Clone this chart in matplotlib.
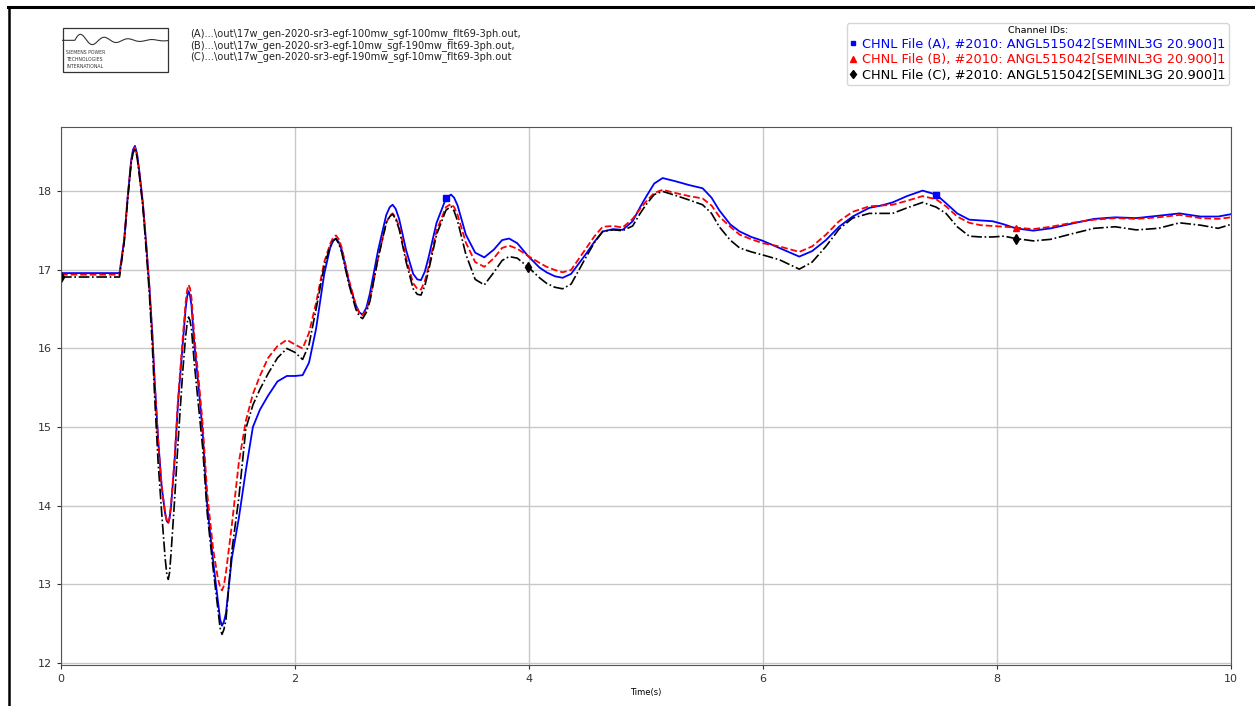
import numpy as np
import matplotlib
matplotlib.use("Agg")
import matplotlib.pyplot as plt
from matplotlib.lines import Line2D
from matplotlib.patches import Rectangle

# time axis shared by the three channels (s)
t = [0.0, 0.5, 0.54, 0.57, 0.60, 0.615, 0.632, 0.65, 0.67, 0.70, 0.73, 0.755, 0.78, 0.80, 0.83, 0.86,
     0.89, 0.905, 0.917, 0.928, 0.94, 0.97, 1.0, 1.04, 1.065, 1.078, 1.09, 1.102, 1.115, 1.14, 1.18,
     1.21, 1.25, 1.30, 1.34, 1.36, 1.376, 1.392, 1.41, 1.46, 1.52, 1.58, 1.64, 1.70, 1.77, 1.85, 1.93,
     2.0, 2.065, 2.12, 2.18, 2.25, 2.30, 2.325, 2.35, 2.375, 2.40, 2.46, 2.52, 2.55, 2.578, 2.61, 2.64,
     2.71, 2.78, 2.81, 2.834, 2.86, 2.89, 2.95, 3.01, 3.045, 3.077, 3.11, 3.14, 3.21, 3.29, 3.333, 3.36,
     3.39, 3.46, 3.54, 3.618, 3.70, 3.77, 3.83, 3.90, 3.99, 4.09, 4.15, 4.22, 4.287, 4.36, 4.49, 4.56,
     4.63, 4.72, 4.80, 4.886, 4.95, 5.0, 5.07, 5.142, 5.25, 5.37, 5.484, 5.56, 5.626, 5.72, 5.80, 5.90,
     6.0, 6.14, 6.31, 6.42, 6.538, 6.65, 6.766, 6.908, 7.01, 7.108, 7.23, 7.364, 7.48, 7.564, 7.66,
     7.763, 7.86, 7.963, 8.06, 8.16, 8.31, 8.46, 8.64, 8.83, 9.01, 9.19, 9.38, 9.56, 9.74, 9.89, 10.0]

# File (A) - blue
ang_a = [16.96, 16.96, 17.38, 17.93, 18.40, 18.53, 18.58, 18.48, 18.25, 17.85, 17.30, 16.80, 16.20, 15.60, 14.85, 14.25,
         13.90, 13.80, 13.78, 13.84, 13.98, 14.55, 15.30, 16.05, 16.50, 16.66, 16.73, 16.68, 16.55, 16.05, 15.45,
         14.95, 14.00, 13.30, 12.80, 12.55, 12.47, 12.52, 12.63, 13.33, 13.84, 14.45, 15.00, 15.22, 15.40, 15.58, 15.65,
         15.65, 15.66, 15.82, 16.25, 16.95, 17.28, 17.37, 17.40, 17.35, 17.25, 16.85, 16.55, 16.46, 16.43, 16.52, 16.70,
         17.25, 17.70, 17.80, 17.83, 17.78, 17.65, 17.25, 16.95, 16.88, 16.87, 16.98, 17.15, 17.60, 17.91, 17.96, 17.92,
         17.82, 17.45, 17.22, 17.16, 17.26, 17.38, 17.40, 17.34, 17.18, 17.03, 16.97, 16.92, 16.90, 16.95, 17.21, 17.36,
         17.49, 17.52, 17.51, 17.62, 17.80, 17.93, 18.10, 18.17, 18.13, 18.08, 18.04, 17.92, 17.76, 17.58, 17.49, 17.42,
         17.37, 17.28, 17.17, 17.24, 17.38, 17.55, 17.68, 17.79, 17.82, 17.86, 17.94, 18.01, 17.96, 17.85, 17.72,
         17.64, 17.63, 17.62, 17.58, 17.53, 17.50, 17.53, 17.59, 17.65, 17.67, 17.66, 17.69, 17.72, 17.68, 17.68, 17.71]

# File (B) - red
ang_b = [16.94, 16.94, 17.38, 17.93, 18.38, 18.50, 18.56, 18.46, 18.23, 17.83, 17.28, 16.78, 16.18, 15.58, 14.83, 14.25,
         13.90, 13.80, 13.78, 13.85, 14.00, 14.58, 15.35, 16.12, 16.58, 16.74, 16.81, 16.77, 16.65, 16.15, 15.55,
         15.05, 14.15, 13.45, 13.08, 12.96, 12.92, 12.98, 13.15, 13.75, 14.55, 15.08, 15.42, 15.65, 15.88, 16.03, 16.11,
         16.05, 16.00, 16.20, 16.58, 17.10, 17.33, 17.41, 17.44, 17.39, 17.28, 16.88, 16.55, 16.45, 16.42, 16.49, 16.62,
         17.15, 17.60, 17.69, 17.72, 17.67, 17.55, 17.15, 16.83, 16.76, 16.75, 16.86, 17.03, 17.50, 17.80, 17.84, 17.80,
         17.70, 17.35, 17.10, 17.04, 17.15, 17.28, 17.31, 17.27, 17.18, 17.09, 17.04, 17.00, 16.97, 17.00, 17.28, 17.43,
         17.55, 17.56, 17.54, 17.65, 17.78, 17.87, 17.98, 18.02, 17.98, 17.94, 17.91, 17.82, 17.68, 17.55, 17.45, 17.39,
         17.34, 17.30, 17.23, 17.30, 17.45, 17.62, 17.74, 17.81, 17.82, 17.83, 17.88, 17.94, 17.90, 17.81, 17.68,
         17.60, 17.57, 17.56, 17.55, 17.54, 17.52, 17.55, 17.60, 17.64, 17.66, 17.65, 17.67, 17.70, 17.66, 17.65, 17.67]

# File (C) - black
ang_c = [16.91, 16.91, 17.35, 17.90, 18.36, 18.48, 18.55, 18.44, 18.20, 17.80, 17.22, 16.70, 16.05, 15.40, 14.55, 13.92,
         13.33, 13.12, 13.06, 13.15, 13.38, 14.05, 14.80, 15.70, 16.15, 16.32, 16.40, 16.36, 16.25, 15.80, 15.20,
         14.75, 13.90, 13.20, 12.70, 12.44, 12.36, 12.42, 12.55, 13.42, 14.10, 14.98, 15.28, 15.48, 15.68, 15.88, 16.00,
         15.95, 15.86, 16.05, 16.50, 17.05, 17.30, 17.37, 17.40, 17.33, 17.22, 16.82, 16.50, 16.41, 16.38, 16.46, 16.60,
         17.15, 17.60, 17.68, 17.71, 17.65, 17.52, 17.10, 16.76, 16.69, 16.68, 16.80, 16.98, 17.45, 17.76, 17.81, 17.75,
         17.62, 17.20, 16.88, 16.81, 16.97, 17.12, 17.17, 17.15, 17.04, 16.90, 16.83, 16.78, 16.76, 16.82, 17.17, 17.35,
         17.49, 17.51, 17.50, 17.56, 17.72, 17.83, 17.96, 18.00, 17.95, 17.89, 17.83, 17.72, 17.55, 17.38, 17.28, 17.23,
         17.19, 17.13, 17.01, 17.10, 17.30, 17.52, 17.66, 17.72, 17.72, 17.72, 17.79, 17.86, 17.80, 17.72, 17.55,
         17.43, 17.42, 17.42, 17.43, 17.40, 17.37, 17.39, 17.46, 17.53, 17.55, 17.51, 17.53, 17.60, 17.57, 17.53, 17.58]

# where the symbols sit on each trace
mark_a = [3.29, 7.48]
mark_b = [8.16]
mark_c = [0.0, 3.99, 8.16]

files = ["(A)...\\out\\17w_gen-2020-sr3-egf-100mw_sgf-100mw_flt69-3ph.out,",
         "(B)...\\out\\17w_gen-2020-sr3-egf-10mw_sgf-190mw_flt69-3ph.out,",
         "(C)...\\out\\17w_gen-2020-sr3-egf-190mw_sgf-10mw_flt69-3ph.out"]
labels = ["CHNL File (A), #2010: ANGL515042[SEMINL3G 20.900]1",
          "CHNL File (B), #2010: ANGL515042[SEMINL3G 20.900]1",
          "CHNL File (C), #2010: ANGL515042[SEMINL3G 20.900]1"]

W, H = 1255, 706
fig = plt.figure(figsize=(W / 100, H / 100), dpi=100)
ax = fig.add_axes([61 / W, 1 - 665 / H, (1231 - 61) / W, (665 - 127) / H])

ax.plot(t, ang_a, color="blue", lw=1.3, ls="-", marker="s", ms=4,
        markevery=[t.index(m) for m in mark_a])
ax.plot(t, ang_b, color="red", lw=1.3, ls="--", marker="^", ms=5,
        markevery=[t.index(m) for m in mark_b])
ax.plot(t, ang_c, color="black", lw=1.2, ls="-.", marker="d", ms=5,
        markevery=[t.index(m) for m in mark_c])

ax.set_xlim(0, 10)
ax.set_ylim(11.97, 18.82)
ax.set_xticks(range(0, 11, 2))
ax.set_yticks(range(12, 19))
ax.tick_params(labelsize=8, colors="#333333", length=3)
ax.grid(True, color="#c8c8c8", lw=1.0)
for s in ax.spines.values():
    s.set_color("#555555")
ax.set_xlabel("Time(s)", fontsize=6, labelpad=3)

# header: logo, file list, legend
logo = fig.add_axes([62 / W, 1 - 72 / H, 107 / W, 44 / H])
logo.set_xlim(0, 1)
logo.set_ylim(0, 1)
logo.axis("off")
logo.add_patch(Rectangle((0.005, 0.01), 0.99, 0.98, fill=False, ec="#333333", lw=0.9, clip_on=False))
xs = np.linspace(0, 1, 200)
wave = 0.72 + 0.16 * np.exp(-3 * np.clip(xs - 0.12, 0, None)) * np.sin(2 * np.pi * 4.5 * np.clip(xs - 0.12, 0, None))
logo.plot(xs, wave, color="#333333", lw=0.8)
for i, s in enumerate(["SIEMENS POWER", "TECHNOLOGIES", "INTERNATIONAL"]):
    logo.text(0.04, 0.44 - i * 0.16, s, fontsize=3.3, va="center", color="#333333")

for i, s in enumerate(files):
    fig.text(190 / W, 1 - (34 + i * 11.5) / H, s, fontsize=7.1, va="center", color="#222222")

handles = [Line2D([], [], color="blue", marker="s", ls="none", ms=3.5),
           Line2D([], [], color="red", marker="^", ls="none", ms=4.5),
           Line2D([], [], color="black", marker="d", ls="none", ms=4.5)]
leg = fig.legend(handles, labels, loc="upper right", bbox_to_anchor=(1229 / W, 1 - 23 / H),
                 fontsize=9.3, title="Channel IDs:", title_fontsize=6.8,
                 labelcolor=["blue", "red", "black"], handlelength=0.5, handletextpad=0.45,
                 borderpad=0.25, labelspacing=0.2, borderaxespad=0, frameon=True, edgecolor="#cccccc")

# page frame of the original screenshot
fig.add_artist(Line2D([8 / W, 1], [1 - 7 / H, 1 - 7 / H], color="black", lw=2.2))
fig.add_artist(Line2D([9 / W, 9 / W], [0, 1 - 7 / H], color="black", lw=1.8))

fig.savefig("out.png", dpi=100)
